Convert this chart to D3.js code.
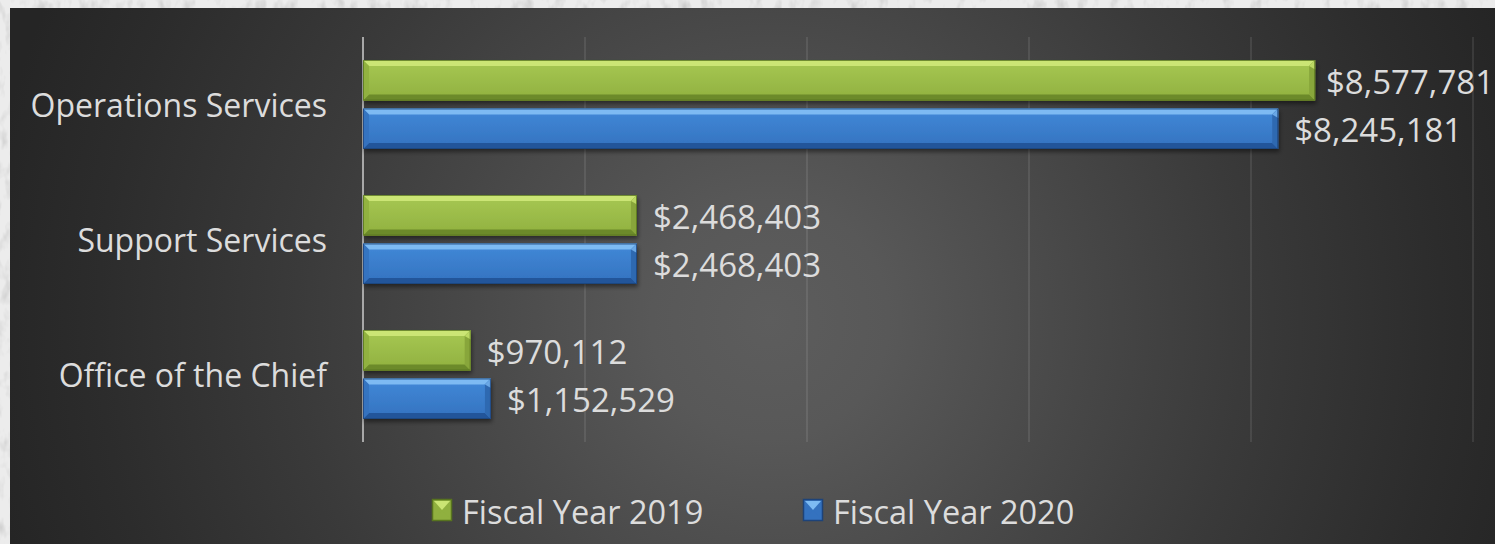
<!DOCTYPE html>
<html>
<head>
<meta charset="utf-8">
<script src="https://cdn.jsdelivr.net/npm/d3@7"></script>
<style>
  html, body { margin: 0; padding: 0; background: #e6e6e6; }
  svg { display: block; }
  text { font-family: "Open Sans", "Noto Sans", sans-serif; }
</style>
</head>
<body>
<svg id="chart" width="1495" height="544"></svg>
<script>
// Budget by division, two fiscal years
const categories = ["Operations Services", "Support Services", "Office of the Chief"];
const seriesNames = ["Fiscal Year 2019", "Fiscal Year 2020"];
const fy2019 = [8577781, 2468403, 970112];
const fy2020 = [8245181, 2468403, 1152529];
const gridTicks = [0, 2000000, 4000000, 6000000, 8000000, 10000000];

const W = 1495, H = 544;
const svg = d3.select("#chart");
const defs = svg.append("defs");

// stone frame texture
const stone = defs.append("filter").attr("id", "stone")
  .attr("x", 0).attr("y", 0).attr("width", "100%").attr("height", "100%");
stone.append("feTurbulence").attr("type", "fractalNoise")
  .attr("baseFrequency", "0.09 0.05").attr("numOctaves", 3).attr("seed", 7).attr("result", "n");
stone.append("feColorMatrix").attr("in", "n").attr("type", "matrix")
  .attr("values", "0 0 0 0 0.6  0 0 0 0 0.6  0 0 0 0 0.6  0 0 0 -2.2 1.15").attr("result", "spots");
stone.append("feFlood").attr("flood-color", "#ececec").attr("result", "base");
stone.append("feComposite").attr("in", "spots").attr("in2", "base").attr("operator", "over");

// panel background
const bg = defs.append("radialGradient").attr("id", "panelGrad")
  .attr("gradientUnits", "userSpaceOnUse").attr("cx", 770).attr("cy", 320).attr("r", 790);
[[0, "#5d5d5d"], [0.15, "#585858"], [0.4, "#474747"], [0.6, "#3a3a3a"], [0.85, "#2c2c2c"], [1, "#252525"]]
  .forEach(([o, c]) => bg.append("stop").attr("offset", o).attr("stop-color", c));

// bar shadow
const sh = defs.append("filter").attr("id", "barShadow")
  .attr("x", "-5%").attr("y", "-30%").attr("width", "110%").attr("height", "170%");
sh.append("feDropShadow").attr("dx", 1).attr("dy", 3).attr("stdDeviation", 2)
  .attr("flood-color", "#000").attr("flood-opacity", 0.45);

svg.append("rect").attr("width", W).attr("height", H).attr("filter", "url(#stone)");
svg.append("rect").attr("x", 10).attr("y", 8).attr("width", W - 10).attr("height", H - 8)
  .attr("fill", "url(#panelGrad)");

// scales
const x = d3.scaleLinear().domain([0, 10000000]).range([363, 1473]);
const y0 = d3.scaleBand().domain(categories).range([37, 442]).padding(0);
const y1 = d3.scaleBand().domain(seriesNames).range([0, y0.bandwidth()])
  .paddingInner(0.165).paddingOuter(0.474);

// palette per series: face top/bottom, top bevel, bottom bevel, right bevel, outline
const palette = {
  "Fiscal Year 2019": { faceTop: "#a7c853", faceBot: "#90b03f", top: "#cbe574", bot: "#6c8a2a",
                        right: "#88a63a", rightHi: "#bcd964", edge: "#58741f" },
  "Fiscal Year 2020": { faceTop: "#4189d8", faceBot: "#3472bf", top: "#7dbbf3", bot: "#24559a",
                        right: "#2f69b1", rightHi: "#6aa8e6", edge: "#1d437a" }
};

seriesNames.forEach((s, i) => {
  const p = palette[s];
  const g = defs.append("linearGradient").attr("id", "face" + i)
    .attr("x1", 0).attr("y1", 0).attr("x2", 0).attr("y2", 1);
  g.append("stop").attr("offset", 0).attr("stop-color", p.faceTop);
  g.append("stop").attr("offset", 1).attr("stop-color", p.faceBot);
});

// gridlines
svg.append("g").selectAll("line").data(gridTicks.slice(1)).join("line")
  .attr("x1", d => x(d)).attr("x2", d => x(d))
  .attr("y1", 37).attr("y2", 442)
  .attr("stroke", "#ffffff").attr("stroke-opacity", 0.12).attr("stroke-width", 1.5);

// category axis line
svg.append("line").attr("x1", x(0)).attr("x2", x(0)).attr("y1", 37).attr("y2", 442)
  .attr("stroke", "#a8a8a8").attr("stroke-width", 2);

// category labels
svg.append("g").selectAll("text").data(categories).join("text")
  .attr("x", 327).attr("y", d => y0(d) + y0.bandwidth() / 2)
  .attr("text-anchor", "end").attr("dominant-baseline", "central")
  .attr("font-size", 32).attr("fill", "#dcdcdc").text(d => d);

// bevelled bar drawing
function bevelBar(sel, x0, yTop, w, h, p, gradId) {
  const b = Math.min(6, w / 2);
  const g = sel.append("g").attr("filter", "url(#barShadow)");
  g.append("rect").attr("x", x0).attr("y", yTop).attr("width", w).attr("height", h)
    .attr("fill", `url(#${gradId})`);
  const x1 = x0 + w, y1b = yTop + h;
  const pts = a => a.map(q => q.join(",")).join(" ");
  // top bevel
  g.append("polygon").attr("points", pts([[x0, yTop], [x1, yTop], [x1 - b, yTop + b], [x0 + b, yTop + b]]))
    .attr("fill", p.top);
  // bottom bevel
  g.append("polygon").attr("points", pts([[x0, y1b], [x1, y1b], [x1 - b, y1b - b], [x0 + b, y1b - b]]))
    .attr("fill", p.bot);
  // right bevel
  g.append("polygon").attr("points", pts([[x1, yTop], [x1, y1b], [x1 - b, y1b - b], [x1 - b, yTop + b]]))
    .attr("fill", p.right);
  g.append("polygon").attr("points", pts([[x1, yTop], [x1, yTop + b * 1.6], [x1 - b, yTop + b]]))
    .attr("fill", p.rightHi);
  // left bevel
  g.append("polygon").attr("points", pts([[x0, yTop], [x0, y1b], [x0 + b, y1b - b], [x0 + b, yTop + b]]))
    .attr("fill", p.faceBot).attr("opacity", 0.9);
  g.append("rect").attr("x", x0 + 0.5).attr("y", yTop + 0.5).attr("width", w - 1).attr("height", h - 1)
    .attr("fill", "none").attr("stroke", p.edge).attr("stroke-width", 1).attr("stroke-opacity", 0.8);
}

const rows = categories.map((c, k) => ({ cat: c, vals: [fy2019[k], fy2020[k]] }));
const fmt = d3.format("$,");
const barsG = svg.append("g");
const labelsG = svg.append("g");

rows.forEach(r => {
  r.vals.forEach((v, i) => {
    const s = seriesNames[i];
    const top = y0(r.cat) + y1(s);
    const h = y1.bandwidth();
    bevelBar(barsG, x(0), top, x(v) - x(0), h, palette[s], "face" + i);
    const t = labelsG.append("text")
      .attr("y", top + h / 2 + 1).attr("dominant-baseline", "central")
      .attr("font-size", 33).attr("fill", "#dcdcdc").text(fmt(v));
    const tw = t.node().getComputedTextLength();
    // keep the label inside the panel when the bar runs near the right edge
    t.attr("x", Math.min(x(v) + 16, W - 1 - tw));
  });
});

// legend
const legendX = [432, 803];
const legend = svg.append("g");
seriesNames.forEach((s, i) => {
  const p = palette[s];
  const lx = legendX[i];
  const ly = 499;
  const mw = 20, mh = 22;
  const g = legend.append("g");
  g.append("rect").attr("x", lx).attr("y", ly).attr("width", mw).attr("height", mh).attr("fill", p.faceBot);
  const pts = a => a.map(q => q.join(",")).join(" ");
  g.append("polygon").attr("points", pts([[lx + 2, ly + 2], [lx + mw - 2, ly + 2], [lx + mw / 2, ly + mh * 0.5]]))
    .attr("fill", p.top);
  g.append("polygon").attr("points", pts([[lx + 2, ly + mh - 2], [lx + mw - 2, ly + mh - 2], [lx + mw / 2, ly + mh * 0.5]]))
    .attr("fill", p.faceBot);
  g.append("rect").attr("x", lx + 0.5).attr("y", ly + 0.5).attr("width", mw - 1).attr("height", mh - 1)
    .attr("fill", "none").attr("stroke", p.edge).attr("stroke-width", 1.5);
  g.append("text").attr("x", lx + 30).attr("y", ly + mh / 2 + 1)
    .attr("dominant-baseline", "central").attr("font-size", 32.5).attr("fill", "#dcdcdc").text(s);
});
</script>
</body>
</html>
